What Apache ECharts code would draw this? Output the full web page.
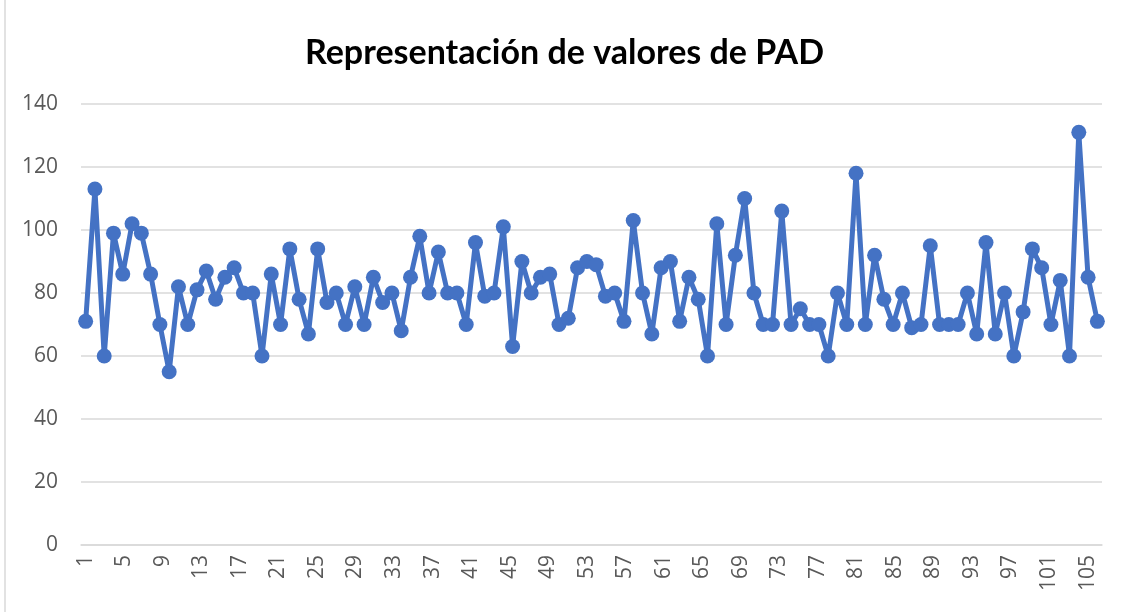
<!DOCTYPE html>
<html>
<head>
<meta charset="utf-8">
<script src="https://cdn.jsdelivr.net/npm/echarts@6/dist/echarts.min.js"></script>
<style>
  html, body { margin: 0; padding: 0; background: #fff; }
  #chart { width: 1129px; height: 612px; }
</style>
</head>
<body>
<div id="chart"></div>
<script>
//---valores de PAD (uno por registro)
var padValues = [
    71, 113, 60, 99, 86, 102, 99, 86, 70, 55,
    82, 70, 81, 87, 78, 85, 88, 80, 80, 60,
    86, 70, 94, 78, 67, 94, 77, 80, 70, 82,
    70, 85, 77, 80, 68, 85, 98, 80, 93, 80,
    80, 70, 96, 79, 80, 101, 63, 90, 80, 85,
    86, 70, 72, 88, 90, 89, 79, 80, 71, 103,
    80, 67, 88, 90, 71, 85, 78, 60, 102, 70,
    92, 110, 80, 70, 70, 106, 70, 75, 70, 70,
    60, 80, 70, 118, 70, 92, 78, 70, 80, 69,
    70, 95, 70, 70, 70, 80, 67, 96, 67, 80,
    60, 74, 94, 88, 70, 84, 60, 131, 85, 71
];
//---categorias de los puntos (1..110)
var pointCats = [];
for (var i = 1; i <= padValues.length; i++) { pointCats.push(String(i)); }
//---etiquetas del eje x tal como aparecen (1..106, se ve una de cada 4)
var tickCount = 106;
var tickLabels = [];
for (var j = 1; j <= tickCount; j++) { tickLabels.push(String(j)); }
//---eje y
var yTicks = { min: 0, max: 140, step: 20 };

var chart = echarts.init(document.getElementById('chart'));
var option = {
    animation: false,
    backgroundColor: '#fff',
    title: {
        text: 'Representación de valores de PAD',
        left: 'center',
        top: 31,
        textStyle: {
            fontFamily: 'Lato',
            fontWeight: 'bold',
            fontSize: 34,
            color: '#000'
        }
    },
    graphic: [{
        type: 'line',
        shape: { x1: 5, y1: 0, x2: 5, y2: 612 },
        style: { stroke: '#d9d9d9', lineWidth: 1.5 }
    }],
    grid: { left: 81, right: 27, top: 104, bottom: 67 },
    xAxis: [{
        type: 'category',
        data: pointCats,
        boundaryGap: true,
        axisLine: { show: false },
        axisTick: { show: false },
        axisLabel: { show: false }
    }, {
        type: 'category',
        position: 'bottom',
        data: tickLabels,
        boundaryGap: true,
        axisLine: { show: true, lineStyle: { color: '#d9d9d9', width: 1.5 } },
        axisTick: { show: false },
        axisLabel: {
            interval: 3,
            rotate: 90,
            margin: 10,
            fontFamily: 'Open Sans',
            fontSize: 21,
            color: '#595959'
        }
    }],
    yAxis: {
        type: 'value',
        min: yTicks.min,
        max: yTicks.max,
        interval: yTicks.step,
        axisLine: { show: false },
        axisTick: { show: false },
        axisLabel: {
            margin: 23,
            fontFamily: 'Open Sans',
            fontSize: 21,
            color: '#595959'
        },
        splitLine: { lineStyle: { color: '#d9d9d9', width: 1.5 } }
    },
    series: [{
        name: 'PAD',
        type: 'line',
        xAxisIndex: 0,
        data: padValues,
        symbol: 'circle',
        symbolSize: 15,
        showSymbol: true,
        showAllSymbol: true,
        lineStyle: { color: '#4472c4', width: 5 },
        itemStyle: { color: '#4472c4' }
    }]
};
chart.setOption(option);
</script>
</body>
</html>
